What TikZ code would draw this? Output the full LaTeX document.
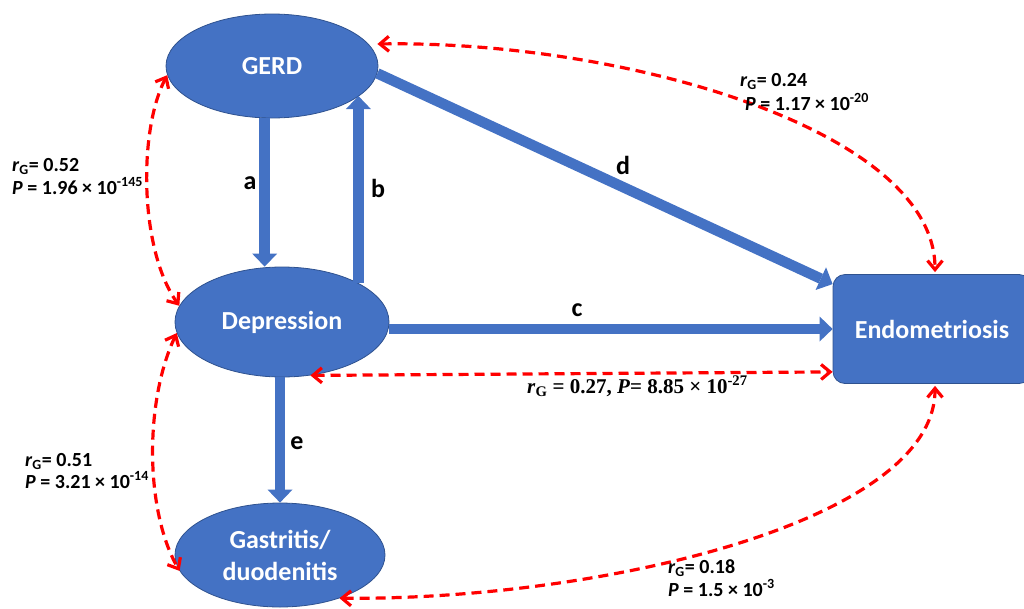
\documentclass[tikz,border=0pt]{standalone}
\usepackage{fontspec}
\setmainfont{Carlito}
\newfontfamily\tnr{Liberation Serif}
\usetikzlibrary{arrows.meta,shapes.geometric,calc}
\definecolor{nodeblue}{HTML}{4472C4}
\definecolor{edgeblue}{HTML}{2F528F}
\definecolor{corrred}{HTML}{FF0000}
\tikzset{
  ell/.style={ellipse, fill=nodeblue, draw=edgeblue, line width=0.8pt, inner sep=0pt, text=white,
    font=\fontsize{26}{32}\selectfont\bfseries, align=center},
  boxnode/.style={rectangle, rounded corners=12pt, fill=nodeblue, draw=edgeblue, line width=0.8pt,
    inner sep=0pt, text=white, font=\fontsize{26}{32}\selectfont\bfseries},
  bluearrow/.style={color=nodeblue, line width=10.5pt,
    -{Triangle[length=13pt,width=25pt,line width=0pt]}},
  corr/.style={color=corrred, line width=3.2pt, dash pattern=on 10pt off 6pt,
    arrows={Straight Barb[length=9pt,width=15pt]-Straight Barb[length=9pt,width=15pt]}},
  lbl/.style={font=\fontsize{26}{30}\selectfont\bfseries, inner sep=0pt},
  stat/.style={font=\fontsize{20}{23}\selectfont\bfseries, inner sep=0pt, anchor=base west},
}
\begin{document}
\begin{tikzpicture}[x=1pt,y=-1pt]
\useasboundingbox (0,0) rectangle (1024,608);

% nodes
\node[ell, minimum width=212pt, minimum height=104pt] (gerd) at (272,66) {GERD};
\node[ell, minimum width=214pt, minimum height=110pt] (dep) at (282,322) {Depression};
\node[ell, minimum width=210pt, minimum height=104pt] (gas) at (280,555) {Gastritis/\\duodenitis};
\node[boxnode, minimum width=198pt, minimum height=109pt] (endo) at (932,329) {Endometriosis};

% causal arrows
\draw[bluearrow] (gerd.-98) -- (gerd.-98 |- dep.north);
\draw[bluearrow] (dep.27) -- (dep.27 |- gerd.-19);
\coordinate (dtip) at ([shift={(0,10)}]endo.north west);
\draw[bluearrow] (gerd.-4) -- (dtip);
\draw[bluearrow] (dep.east |- endo.west) -- (endo.west);
\draw[bluearrow] (gas.north |- dep.south) -- (gas.north);

% arrow labels
\node[lbl] (la) at (250,183) {a};
\node[lbl] (lb) at (378,188) {b};
\node[lbl] (lc) at (577,310) {c};
\node[lbl] (ld) at (623,165) {d};
\node[lbl] (le) at (297,443) {e};

% genetic correlations
\coordinate (g1) at ([shift={(-1,-22)}]gerd.east);
\coordinate (e1) at ([shift={(3,-2)}]endo.north);
\draw[corr] (g1) .. controls +(243,-4) and +(0,-143) .. (e1);

\draw[corr] (gerd.185) .. controls +(-29,55) and +(-40,-56) .. (dep.171);
\draw[corr] (dep.186) .. controls +(-32,67) and +(-35,-61) .. (gas.189);

\coordinate (e2) at ([shift={(0,-12)}]endo.south west);
\draw[corr] (dep.-62) -- (e2);

\coordinate (e3) at ([shift={(3,2)}]endo.south);
\draw[corr] (gas.-36) .. controls +(260,2) and +(0,136) .. (e3);

% statistics
\node[stat] (s1a) at (740,86) {\textit{r}\textsubscript{G}= 0.24};
\node[stat] (s1b) at (745,110) {\textit{P} = 1.17 × 10\textsuperscript{-20}};
\node[stat] (s2a) at (12,171) {\textit{r}\textsubscript{G}= 0.52};
\node[stat] (s2b) at (12,194) {\textit{P} = 1.96 × 10\textsuperscript{-145}};
\node[stat] (s3a) at (25,466) {\textit{r}\textsubscript{G}= 0.51};
\node[stat] (s3b) at (25,488) {\textit{P} = 3.21 × 10\textsuperscript{-14}};
\node[stat] (s4a) at (668,573) {\textit{r}\textsubscript{G}= 0.18};
\node[stat] (s4b) at (668,596) {\textit{P} = 1.5 × 10\textsuperscript{-3}};
\node[stat, font=\tnr\fontsize{21}{24}\selectfont\bfseries] (s5) at (527,393)
  {\textit{r}\textsubscript{G} = 0.27, \textit{P}= 8.85 × 10\textsuperscript{-27}};
\end{tikzpicture}
\end{document}
